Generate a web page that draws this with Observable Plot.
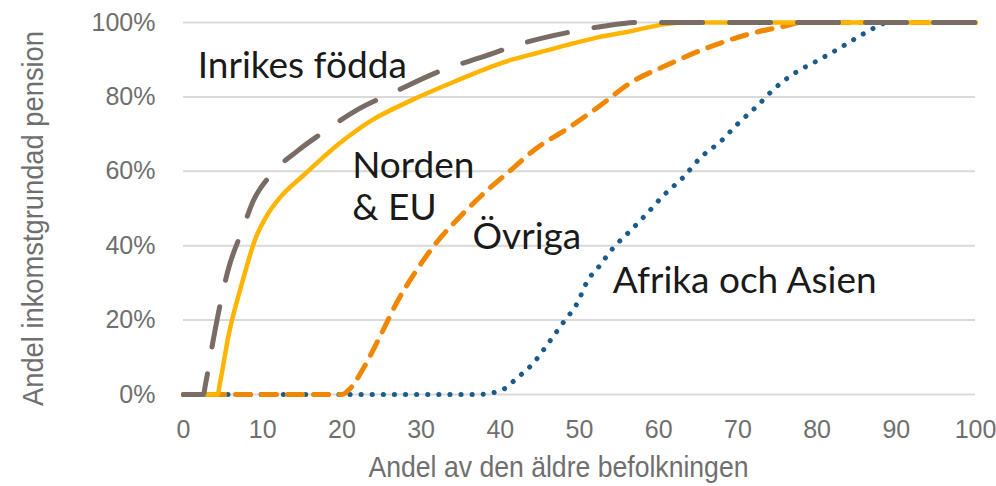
<!DOCTYPE html>
<html>
<head>
<meta charset="utf-8">
<script src="https://cdn.jsdelivr.net/npm/d3@7"></script>
<script src="https://cdn.jsdelivr.net/npm/@observablehq/plot@0.6"></script>
<style>
  html, body { margin: 0; padding: 0; background: #fff; }
</style>
</head>
<body>
<div id="chart"></div>
<script>
// ---- Data ----
const xTicks = [0, 10, 20, 30, 40, 50, 60, 70, 80, 90, 100];
const yTicks = [0, 20, 40, 60, 80, 100];
const xTitle = "Andel av den äldre befolkningen";
const yTitle = "Andel inkomstgrundad pension";

const inrikesX = [0, 2.5, 2.8, 3.7, 5.7, 7.4, 8.8, 11, 14.4, 17.3, 21.5, 27, 32, 38.4, 42.2, 49, 53, 57.5, 100];
const inrikesY = [0, 0, 3, 14, 34, 44, 52, 59, 65.5, 70, 76, 81.7, 86.6, 91.2, 94, 97.5, 99, 100, 100];

const nordenX = [0, 4.3, 4.6, 5.7, 7.4, 9.1, 10.5, 12.2, 15.2, 19.4, 23.6, 28.7, 34.1, 40.4, 45, 48.5, 52.3, 56.8, 60.6, 63, 100];
const nordenY = [0, 0, 3, 16, 30, 42, 48, 53, 59, 67, 73.5, 79, 84, 89.3, 92, 94, 96, 97.8, 99.5, 100, 100];

const ovrigaX = [0, 20, 21, 22.7, 24.9, 27, 29, 32, 35, 38.4, 41.7, 44.2, 48.5, 52.5, 56.6, 61, 65.3, 71.6, 75.8, 78, 100];
const ovrigaY = [0, 0, 1.5, 7, 16, 25, 32, 41, 48, 55, 61, 65.6, 71.5, 77.5, 84, 88.5, 92.5, 97, 99, 100, 100];

const afrikaX = [0, 37, 40, 42.2, 44.2, 46, 48, 49.7, 51, 52.5, 54.3, 56.4, 58.5, 60.6, 63.1, 65.3, 67.8, 70, 72.5, 74.6, 77.1, 80.1, 83, 85.9, 89.2, 100];
const afrikaY = [0, 0, 1, 4.6, 8.5, 13.6, 19.5, 24.5, 30.5, 34.5, 39.5, 44, 48.6, 53.5, 58.4, 63.7, 68, 72.8, 77.7, 82.2, 86.3, 89.8, 93.3, 97, 100, 100];

const labelText = ["Inrikes födda", "Norden", "& EU", "Övriga", "Afrika och Asien"];
const labelX = [1.8, 21.3, 21.3, 36.5, 54.2];
const labelY = [85.2, 58.3, 46.8, 39.2, 27.2];

// ---- Build tables ----
const toRows = (xs, ys) => xs.map((x, i) => ({x, y: ys[i]}));
const inrikes = toRows(inrikesX, inrikesY);
const norden = toRows(nordenX, nordenY);
const ovriga = toRows(ovrigaX, ovrigaY);
const afrika = toRows(afrikaX, afrikaY);
const labels = labelText.map((t, i) => ({t, x: labelX[i], y: labelY[i]}));

const titleFont = "'Liberation Sans', Arial, sans-serif";
const tickColor = "#6f6f6f";

const chart = Plot.plot({
  width: 996,
  height: 486,
  marginLeft: 183,
  marginRight: 21,
  marginTop: 22,
  marginBottom: 92,
  style: {
    fontFamily: "'Liberation Sans', Arial, sans-serif",
    fontSize: "25px",
    color: tickColor,
    background: "#fff",
    overflow: "visible"
  },
  x: {domain: [0, 100], ticks: xTicks, tickSize: 0, tickPadding: 26, label: null},
  y: {domain: [0, 100], ticks: yTicks, tickSize: 0, tickPadding: 28, tickFormat: d => d + "%", label: null},
  marks: [
    Plot.ruleY(yTicks, {stroke: "#d9d9d9", strokeWidth: 2}),
    Plot.line(afrika, {x: "x", y: "y", curve: "monotone-x", stroke: "#1b5b8b", strokeWidth: 5,
      strokeDasharray: "0.1,11", strokeLinecap: "round"}),
    Plot.line(ovriga, {x: "x", y: "y", curve: "monotone-x", stroke: "#ef8700", strokeWidth: 5,
      strokeDasharray: "15,11", strokeLinecap: "round"}),
    Plot.line(norden, {x: "x", y: "y", curve: "monotone-x", stroke: "#ffb400", strokeWidth: 4.5}),
    Plot.line(inrikes, {x: "x", y: "y", curve: "monotone-x", stroke: "#786c64", strokeWidth: 5,
      strokeDasharray: "41,27", strokeLinecap: "round"}),
    Plot.text(labels, {x: "x", y: "y", text: "t", textAnchor: "start", lineAnchor: "bottom",
      fontFamily: "Lato, 'Open Sans', sans-serif", fontSize: 37, fill: "#1a1a1a"}),
    Plot.text([xTitle], {frameAnchor: "bottom", dy: 82, dx: -21, lineAnchor: "bottom", textAnchor: "middle",
      fontFamily: titleFont, fontSize: 30, fill: tickColor}),
    Plot.text([yTitle], {frameAnchor: "left", rotate: -90, dx: -141, dy: 10, lineAnchor: "bottom", textAnchor: "middle",
      fontFamily: titleFont, fontSize: 29, fill: tickColor})
  ]
});
// Condense the axis titles horizontally to the reference's narrow type
d3.select(chart).selectAll("text").each(function () {
  const t = this.textContent;
  if (t === xTitle) { this.setAttribute("textLength", 380); this.setAttribute("lengthAdjust", "spacingAndGlyphs"); }
  if (t === yTitle) { this.setAttribute("textLength", 375); this.setAttribute("lengthAdjust", "spacingAndGlyphs"); }
});
document.getElementById("chart").appendChild(chart);
</script>
</body>
</html>
